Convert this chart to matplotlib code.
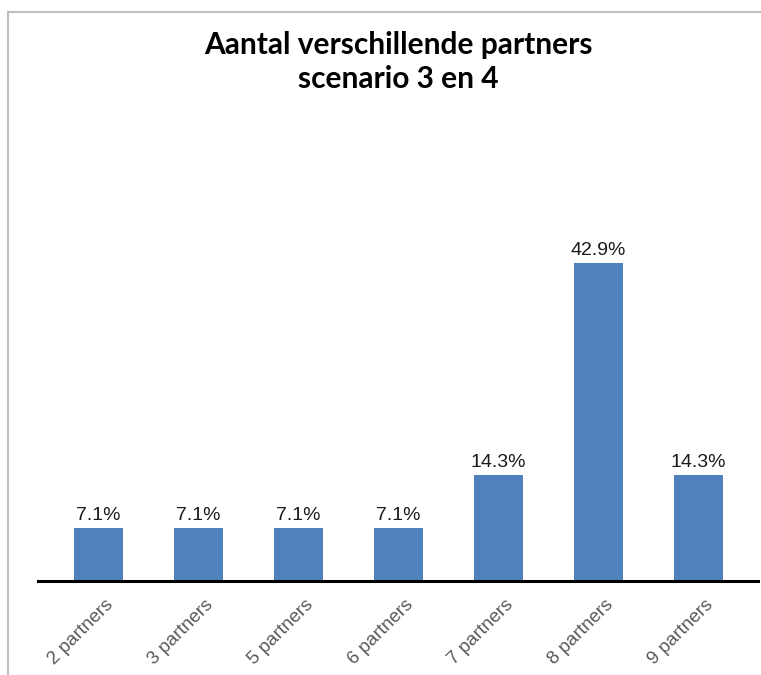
import matplotlib
matplotlib.use("Agg")
import matplotlib.pyplot as plt
import matplotlib.transforms as mtransforms
from matplotlib.patches import Rectangle

categories = ["2 partners", "3 partners", "5 partners", "6 partners",
              "7 partners", "8 partners", "9 partners"]
values = [7.1, 7.1, 7.1, 7.1, 14.3, 42.9, 14.3]
labels = ["7.1%", "7.1%", "7.1%", "7.1%", "14.3%", "42.9%", "14.3%"]
title = "Aantal verschillende partners\nscenario 3 en 4"

W, H = 761, 675
fig = plt.figure(figsize=(W / 100, H / 100), dpi=100)

# light gray outer frame (partly off-canvas on right/bottom)
fig.patches.append(Rectangle((8 / W, -0.05), 1.2, 1 - 12 / H + 0.05,
                             transform=fig.transFigure, fill=False,
                             edgecolor="#BFBFBF", linewidth=1.5))

ax_left, ax_right = 38 / W, 758 / W
ax_bottom = (H - 581) / H
ax_top_px = 210
ax = fig.add_axes([ax_left, ax_bottom, ax_right - ax_left, (581 - ax_top_px) / H])

x = list(range(len(categories)))
bars = ax.bar(x, values, width=0.49, color="#4F81BD", zorder=2)
ax.set_xlim(-0.605, 6.595)
ax.set_ylim(0, 50)

for xi, v, lab in zip(x, values, labels):
    ax.annotate(lab, (xi, v), xytext=(0, 3), textcoords="offset points",
                ha="center", va="bottom", fontsize=14,
                family="Liberation Sans", color="#1a1a1a")

for s in ["top", "right", "left"]:
    ax.spines[s].set_visible(False)
ax.spines["bottom"].set_linewidth(2.2)
ax.spines["bottom"].set_color("black")
ax.set_yticks([])
ax.set_xticks(x)
ax.set_xticklabels(categories, rotation=45, ha="right", rotation_mode="anchor",
                   fontsize=13.5, family="Liberation Sans", color="#595959")
ax.tick_params(axis="x", length=0, pad=11)
offset = mtransforms.ScaledTranslation(6 / 100, 0, fig.dpi_scale_trans)
for lbl in ax.get_xticklabels():
    lbl.set_transform(lbl.get_transform() + offset)

fig.text(398 / W, 1 - 31 / H, title, ha="center", va="top", fontsize=21.5,
         fontweight="bold", family="Lato", linespacing=1.25, color="black")

fig.savefig("out.png", dpi=100, facecolor="white")
